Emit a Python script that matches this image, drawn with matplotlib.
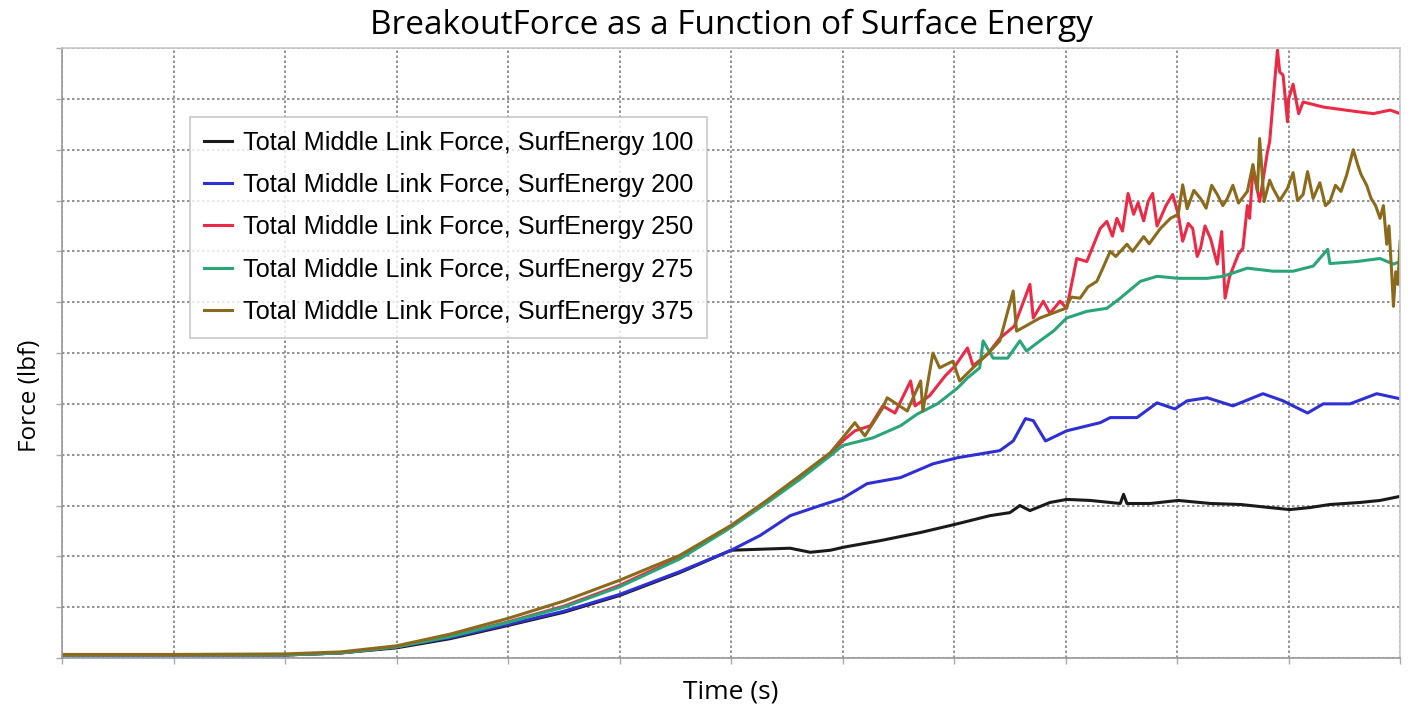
import matplotlib
matplotlib.use("Agg")
import matplotlib.pyplot as plt

# time axis in grid units (no tick labels shown on the original)
t_black = [0, 1.0, 2.0, 2.5, 3.0, 3.48, 4.0, 4.5, 5.0, 5.54, 6.0, 6.26, 6.53, 6.71, 6.89, 7.01,
           7.34, 7.7, 8.01, 8.32, 8.5, 8.59, 8.68, 8.86, 9.01, 9.22, 9.49, 9.52, 9.55, 9.76,
           10.01, 10.3, 10.57, 10.83, 11.01, 11.19, 11.37, 11.64, 11.82, 12.0]
f_black = [0.06, 0.06, 0.06, 0.1, 0.2, 0.38, 0.64, 0.9, 1.23, 1.68, 2.12, 2.14, 2.16, 2.08, 2.12, 2.18,
           2.31, 2.47, 2.63, 2.8, 2.86, 3.0, 2.9, 3.06, 3.12, 3.1, 3.04, 3.22, 3.04, 3.04,
           3.1, 3.04, 3.02, 2.96, 2.92, 2.96, 3.02, 3.06, 3.1, 3.18]

t_blue = [0, 1.0, 2.0, 2.5, 3.0, 3.48, 4.0, 4.5, 5.0, 5.54, 6.0, 6.26, 6.53, 6.8, 7.0, 7.22,
          7.52, 7.81, 8.03, 8.41, 8.53, 8.64, 8.71, 8.82, 9.01, 9.31, 9.4, 9.64, 9.82, 9.98,
          10.09, 10.27, 10.5, 10.77, 10.95, 11.04, 11.17, 11.31, 11.55, 11.79, 12.0]
f_blue = [0.06, 0.06, 0.06, 0.1, 0.22, 0.4, 0.66, 0.92, 1.25, 1.7, 2.12, 2.41, 2.8, 3.0, 3.14, 3.43,
          3.55, 3.82, 3.94, 4.08, 4.27, 4.71, 4.67, 4.27, 4.47, 4.63, 4.73, 4.73, 5.02, 4.9,
          5.06, 5.12, 4.96, 5.2, 5.06, 4.96, 4.82, 5.0, 5.0, 5.2, 5.1]

t_red = [0, 1.0, 2.0, 2.5, 3.0, 3.48, 4.0, 4.5, 5.0, 5.54, 6.0, 6.32, 6.62, 6.89, 7.0, 7.11,
         7.25, 7.36, 7.47, 7.61, 7.65, 7.78, 7.92, 8.01, 8.12, 8.17, 8.3, 8.41, 8.54, 8.68,
         8.71, 8.8, 8.86, 8.95, 9.01, 9.1, 9.19, 9.31, 9.37, 9.42, 9.46, 9.51, 9.56, 9.61,
         9.65, 9.7, 9.74, 9.78, 9.82, 9.85, 9.9, 9.96, 10.01, 10.05, 10.1, 10.14, 10.18,
         10.21, 10.25, 10.3, 10.36, 10.4, 10.43, 10.47, 10.5, 10.55, 10.59, 10.63, 10.65,
         10.68, 10.74, 10.81, 10.83, 10.88, 10.9, 10.92, 10.95, 10.99, 11.0, 11.04, 11.09,
         11.13, 11.31, 11.61, 11.76, 11.91, 12.0]
f_red = [0.06, 0.06, 0.06, 0.1, 0.22, 0.43, 0.71, 1.02, 1.43, 1.98, 2.59, 3.08, 3.57, 4.02, 4.27, 4.47,
         4.57, 4.96, 4.82, 5.45, 4.96, 5.16, 5.55, 5.75, 6.1, 5.75, 5.98, 6.29, 6.53, 7.35,
         6.69, 7.02, 6.78, 7.02, 6.88, 7.86, 7.8, 8.45, 8.59, 8.3, 8.65, 8.4, 9.14, 8.73,
         8.96, 8.6, 8.98, 9.14, 8.5, 8.65, 8.9, 9.12, 8.73, 8.2, 8.55, 8.45, 7.9,
         8.06, 8.5, 8.25, 7.75, 8.39, 7.08, 7.5, 7.67, 7.95, 8.06, 8.9, 8.65,
         9.63, 8.98, 9.96, 10.16, 11.47, 11.96, 11.53, 11.47, 10.55, 11.0, 11.29, 10.71,
         10.94, 10.84, 10.75, 10.71, 10.78, 10.71]

t_green = [0, 1.0, 2.0, 2.5, 3.0, 3.48, 4.0, 4.5, 5.0, 5.54, 6.0, 6.32, 6.62, 6.89, 7.0, 7.27,
           7.52, 7.67, 7.85, 8.03, 8.12, 8.23, 8.26, 8.35, 8.48, 8.59, 8.65, 8.77, 8.89, 9.01,
           9.19, 9.37, 9.49, 9.67, 9.82, 10.01, 10.27, 10.41, 10.63, 10.86, 11.04, 11.22,
           11.35, 11.37, 11.61, 11.82, 11.94, 12.0]
f_green = [0.06, 0.06, 0.06, 0.1, 0.22, 0.42, 0.7, 1.0, 1.4, 1.95, 2.57, 3.05, 3.52, 3.98, 4.18, 4.33,
           4.57, 4.8, 5.0, 5.31, 5.51, 5.71, 6.24, 5.9, 5.9, 6.24, 6.04, 6.24, 6.43, 6.69,
           6.82, 6.88, 7.08, 7.41, 7.51, 7.47, 7.47, 7.51, 7.67, 7.61, 7.61, 7.71,
           8.04, 7.76, 7.8, 7.86, 7.75, 7.8]

t_brown = [0, 1.0, 2.0, 2.5, 3.0, 3.48, 4.0, 4.5, 5.0, 5.54, 6.0, 6.32, 6.62, 6.89, 7.0, 7.11,
           7.2, 7.36, 7.4, 7.58, 7.7, 7.72, 7.81, 7.87, 7.99, 8.05, 8.17, 8.3, 8.41, 8.53,
           8.56, 8.77, 9.0, 9.05, 9.13, 9.2, 9.28, 9.34, 9.4, 9.45, 9.55, 9.6, 9.7, 9.75,
           9.85, 9.94, 10.01, 10.05, 10.09, 10.15, 10.21, 10.26, 10.31, 10.36, 10.41, 10.45,
           10.5, 10.55, 10.63, 10.68, 10.72, 10.74, 10.78, 10.83, 10.86, 10.92, 10.99, 11.04,
           11.08, 11.13, 11.17, 11.22, 11.28, 11.33, 11.37, 11.42, 11.47, 11.52, 11.58, 11.62,
           11.65, 11.7, 11.74, 11.78, 11.82, 11.85, 11.88, 11.9, 11.93, 11.94, 11.96, 11.98, 12.0]
f_brown = [0.07, 0.07, 0.08, 0.12, 0.24, 0.47, 0.78, 1.12, 1.53, 2.02, 2.61, 3.1, 3.59, 4.04, 4.33, 4.63,
           4.37, 4.92, 5.12, 4.86, 5.45, 4.86, 6.0, 5.71, 5.84, 5.45, 5.71, 5.98, 6.24, 7.22,
           6.43, 6.69, 6.88, 7.1, 7.08, 7.3, 7.41, 7.7, 8.0, 7.9, 8.14, 8.0, 8.29, 8.15,
           8.45, 8.65, 8.73, 9.31, 8.84, 9.2, 9.04, 8.85, 9.3, 9.12, 8.9, 9.04,
           9.3, 8.95, 9.18, 9.71, 9.18, 10.22, 8.98, 9.4, 9.24, 9.0, 9.24, 9.55,
           9.0, 9.12, 9.57, 9.04, 9.35, 8.9, 8.98, 9.3, 9.18, 9.5, 10.0, 9.7,
           9.51, 9.3, 9.04, 8.9, 8.65, 8.9, 8.14, 8.5, 7.35, 6.92, 7.6, 7.35, 8.2]

labels = ["Total Middle Link Force, SurfEnergy 100",
          "Total Middle Link Force, SurfEnergy 200",
          "Total Middle Link Force, SurfEnergy 250",
          "Total Middle Link Force, SurfEnergy 275",
          "Total Middle Link Force, SurfEnergy 375"]
colors = ["#1a1a1a", "#2f2fd6", "#ec2a46", "#2aa57a", "#8c6a1c"]

fig = plt.figure(figsize=(14.1, 7.07), dpi=100)
ax = fig.add_axes([0.044, 0.0693, 0.949, 0.8627])

series = [(t_black, f_black), (t_blue, f_blue), (t_red, f_red),
          (t_green, f_green), (t_brown, f_brown)]
for (t, f), c, lab in zip(series, colors, labels):
    ax.plot(t, f, color=c, lw=2.2, label=lab)

ax.set_xlim(0, 12)
ax.set_ylim(0, 12)
ax.set_xticks(range(13))
ax.set_yticks(range(13))
ax.set_xticklabels([])
ax.set_yticklabels([])
ax.tick_params(length=4, color="#aaaaaa", width=1)
ax.grid(True, color="#808080", linestyle=(0, (1.5, 1.5)), linewidth=1.2)
for s in ax.spines.values():
    s.set_color("#c8c8c8")
    s.set_linewidth(1.2)
ax.spines["left"].set_color("#999999")
ax.spines["bottom"].set_color("#999999")

ax.set_title("BreakoutForce as a Function of Surface Energy", fontsize=24,
             family="Open Sans", pad=10)
ax.set_xlabel("Time (s)", fontsize=19, family="Open Sans", labelpad=8)
ax.set_ylabel("Force (lbf)", fontsize=17.5, family="Open Sans", labelpad=8)
ax.yaxis.set_label_coords(-0.015, 0.43)

leg = ax.legend(loc="upper left", bbox_to_anchor=(0.0957, 0.887),
                prop={"family": "Liberation Sans", "size": 18.2},
                frameon=True, fancybox=False, edgecolor="#bbbbbb",
                handlelength=1.1, handletextpad=0.45, labelspacing=0.72,
                borderpad=0.55, borderaxespad=0)
leg.get_frame().set_linewidth(1.2)

fig.savefig("out.png", dpi=100)
